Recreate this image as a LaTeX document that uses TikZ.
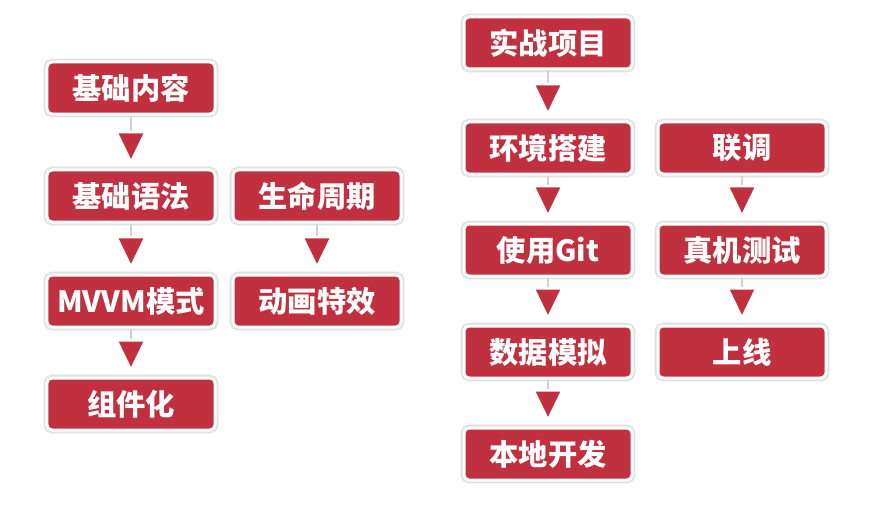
\documentclass[tikz,border=0pt]{standalone}
\usepackage{fontspec}
\newfontfamily\cjk{Noto Sans CJK SC}
\usetikzlibrary{arrows.meta}
\definecolor{boxred}{RGB}{192,48,62}
\tikzset{
  stepbox/.style={rectangle, rounded corners=0.15cm, fill=boxred, draw=white,
    line width=0.09cm, minimum width=5.04cm, minimum height=1.56cm,
    text=white, font=\cjk\bfseries\fontsize{25}{29}\selectfont,
    preaction={draw=black!12, line width=0.2cm}},
  flow/.style={draw=black!18, line width=0.05cm, shorten >=0.12cm,
    -{Triangle[width=0.95cm,length=1cm,fill=boxred,color=white,line width=0.07cm]}}
}
\begin{document}
\begin{tikzpicture}[x=0.03cm,y=-0.03cm]
\useasboundingbox[fill=white] (0,0) rectangle (878,508);
% basics column
\node[stepbox] (jcnr) at (131,88) {基础内容};
\node[stepbox] (jcyf) at (131,196) {基础语法};
\node[stepbox] (mvvm) at (131,301) {MVVM模式};
\node[stepbox] (zjh) at (131,404) {组件化};
\node[stepbox] (smzq) at (317,196) {生命周期};
\node[stepbox] (dhtx) at (317,301) {动画特效};
% project column
\node[stepbox] (szxm) at (548,43) {实战项目};
\node[stepbox] (hjdj) at (548,148) {环境搭建};
\node[stepbox] (sygit) at (548,250) {使用Git};
\node[stepbox] (sjmn) at (548,352) {数据模拟};
\node[stepbox] (bdkf) at (548,454) {本地开发};
\node[stepbox] (lt) at (742,148) {联调};
\node[stepbox] (zjcs) at (742,250) {真机测试};
\node[stepbox] (sx) at (742,352) {上线};

\draw[flow] (jcnr) -- (jcyf);
\draw[flow] (jcyf) -- (mvvm);
\draw[flow] (mvvm) -- (zjh);
\draw[flow] (smzq) -- (dhtx);
\draw[flow] (szxm) -- (hjdj);
\draw[flow] (hjdj) -- (sygit);
\draw[flow] (sygit) -- (sjmn);
\draw[flow] (sjmn) -- (bdkf);
\draw[flow] (lt) -- (zjcs);
\draw[flow] (zjcs) -- (sx);
\end{tikzpicture}
\end{document}
